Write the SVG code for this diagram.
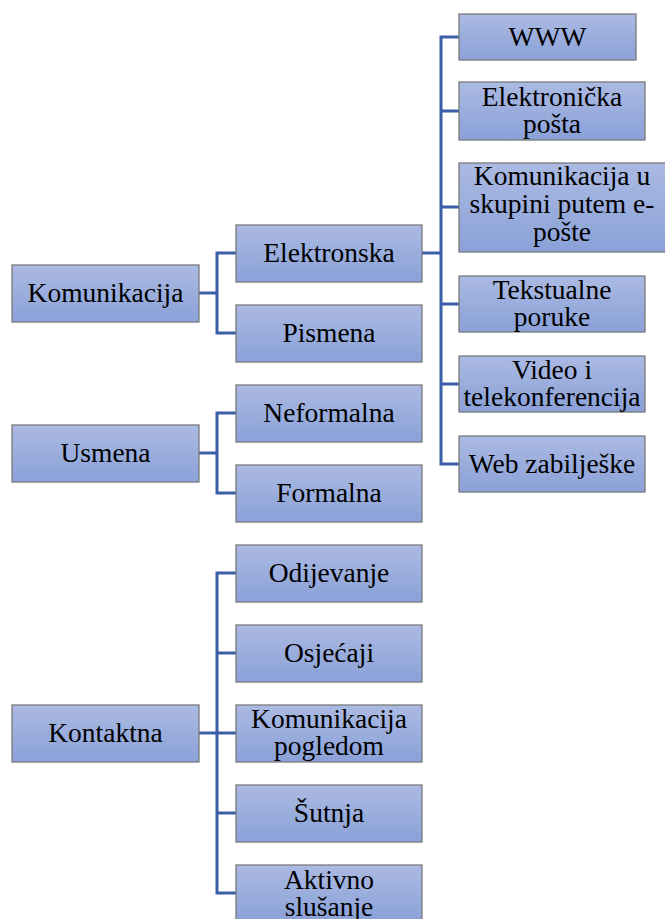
<svg xmlns="http://www.w3.org/2000/svg" width="665" height="919" viewBox="0 0 665 919">
<defs>
<linearGradient id="g" x1="0" y1="0" x2="0" y2="1">
<stop offset="0" stop-color="#abbae2"/>
<stop offset="1" stop-color="#8aa1d8"/>
</linearGradient>
</defs>
<style>
.b{fill:url(#g);stroke:#7a7a7a;stroke-width:1.3}
.t{font-family:"Liberation Serif","Times New Roman",serif;font-size:27.5px;fill:#000;text-anchor:middle}
.c{fill:none;stroke:#3a5ea8;stroke-width:3}
</style>
<rect width="665" height="919" fill="#fff"/>
<g id="connectors">
<path class="c" d="M199,293 H217 M236,253 H217 V333 H236"/>
<path class="c" d="M199,453 H217 M236,413 H217 V493 H236"/>
<path class="c" d="M199,733 H217 M236,573 H217 V893 H236 M217,653 H236 M217,733 H236 M217,813 H236"/>
<path class="c" d="M422,253 H441 M459,37 H441 V464 H459 M441,111 H459 M441,207 H459 M441,304 H459 M441,384 H459"/>
</g>
<g id="n-komunikacija"><rect class="b" x="12" y="265" width="187" height="57"/><text class="t" x="105.5" y="302">Komunikacija</text></g>
<g id="n-usmena"><rect class="b" x="12" y="425" width="187" height="57"/><text class="t" x="105.5" y="462">Usmena</text></g>
<g id="n-kontaktna"><rect class="b" x="12" y="705" width="187" height="57"/><text class="t" x="105.5" y="742">Kontaktna</text></g>
<g id="n-elektronska"><rect class="b" x="236" y="225" width="186" height="57"/><text class="t" x="329" y="262">Elektronska</text></g>
<g id="n-pismena"><rect class="b" x="236" y="305" width="186" height="57"/><text class="t" x="329" y="342">Pismena</text></g>
<g id="n-neformalna"><rect class="b" x="236" y="385" width="186" height="57"/><text class="t" x="329" y="422">Neformalna</text></g>
<g id="n-formalna"><rect class="b" x="236" y="465" width="186" height="57"/><text class="t" x="329" y="502">Formalna</text></g>
<g id="n-odijevanje"><rect class="b" x="236" y="545" width="186" height="57"/><text class="t" x="329" y="582">Odijevanje</text></g>
<g id="n-osjecaji"><rect class="b" x="236" y="625" width="186" height="57"/><text class="t" x="329" y="662">Osjećaji</text></g>
<g id="n-pogledom"><rect class="b" x="236" y="705" width="186" height="57"/><text class="t" x="329" y="728">Komunikacija</text><text class="t" x="329" y="755">pogledom</text></g>
<g id="n-sutnja"><rect class="b" x="236" y="785" width="186" height="57"/><text class="t" x="329" y="822">Šutnja</text></g>
<g id="n-slusanje"><rect class="b" x="236" y="865" width="186" height="57"/><text class="t" x="329" y="889">Aktivno</text><text class="t" x="329" y="916">slušanje</text></g>
<g id="n-www"><rect class="b" x="459" y="14" width="177" height="46"/><text class="t" x="547.5" y="46">WWW</text></g>
<g id="n-posta"><rect class="b" x="459" y="82" width="186" height="58"/><text class="t" x="552" y="106">Elektronička</text><text class="t" x="552" y="133">pošta</text></g>
<g id="n-skupina"><rect class="b" x="459" y="163" width="208" height="89"/><text class="t" x="562" y="185">Komunikacija u</text><text class="t" x="562" y="213">skupini putem e-</text><text class="t" x="562" y="241">pošte</text></g>
<g id="n-poruke"><rect class="b" x="459" y="276" width="186" height="56"/><text class="t" x="552" y="299">Tekstualne</text><text class="t" x="552" y="326">poruke</text></g>
<g id="n-video"><rect class="b" x="459" y="356" width="186" height="56"/><text class="t" x="552" y="379">Video i</text><text class="t" x="552" y="406">telekonferencija</text></g>
<g id="n-web"><rect class="b" x="459" y="436" width="186" height="56"/><text class="t" x="552" y="473">Web zabilješke</text></g>
</svg>
